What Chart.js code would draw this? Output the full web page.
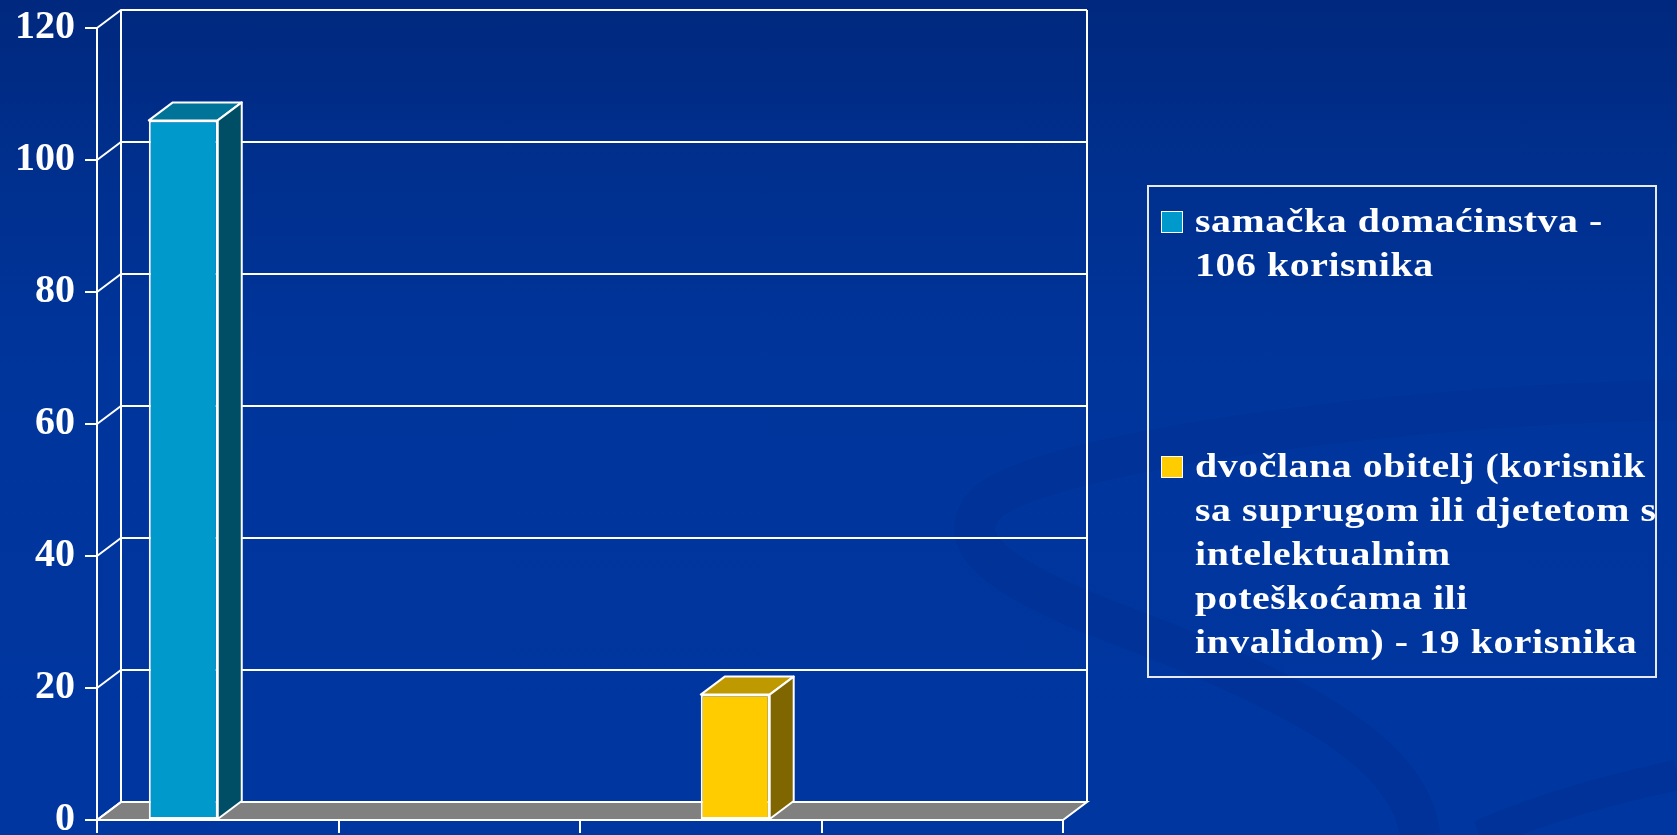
<!DOCTYPE html>
<html>
<head>
<meta charset="utf-8">
<script src="https://cdn.jsdelivr.net/npm/chart.js@4.4.1/dist/chart.umd.min.js"></script>
<style>
    html, body {
        margin: 0;
        padding: 0;
        overflow: hidden;
    }
    .slide {
        position: relative;
        width: 1677px;
        height: 835px;
        background: linear-gradient(180deg, #00287e 0%, #00308f 22%, #00359c 45%, #0036a0 100%);
        overflow: hidden;
    }
    .swirl {
        position: absolute;
        left: 0;
        top: 0;
    }
    .my-chart {
        position: absolute;
        left: 0;
        top: 0;
    }
    .legend {
        position: absolute;
        left: 1147px;
        top: 185px;
        width: 510px;
        height: 493px;
        box-sizing: border-box;
        border: 2px solid #e6e8f2;
        padding: 12px 0 12px 12px;
    }
    .legend ul {
        list-style: none;
        margin: 0;
        padding: 0;
        height: 100%;
        display: flex;
        flex-direction: column;
        justify-content: space-between;
    }
    .legend li {
        display: flex;
        align-items: flex-start;
        font-family: "Liberation Serif", serif;
        font-weight: bold;
        font-size: 34px;
        letter-spacing: 0.5px;
        line-height: 44px;
        color: #ffffff;
        white-space: nowrap;
    }
    .legend .txt {
        display: inline-block;
        transform: scaleX(1.17);
        transform-origin: left top;
    }
    .legend .box {
        flex: none;
        width: 20px;
        height: 20px;
        border: 1px solid #ffffff;
        margin-top: 12px;
        margin-right: 12px;
    }
</style>
</head>
<body>
<div class="slide">
    <svg class="swirl" width="1677" height="835" viewBox="0 0 1677 835">
        <g fill="none" stroke="#002c8a" stroke-opacity="0.3">
            <path d="M1677 400 C1400 405 1060 450 990 500 C945 540 1000 580 1120 625 C1290 690 1410 750 1420 835" stroke-width="40"/>
            <path d="M1480 835 C1550 805 1610 790 1677 775" stroke-width="30"/>
        </g>
    </svg>
    <canvas class="my-chart" width="1677" height="835"></canvas>
    <div class="legend"><ul></ul></div>
</div>
<script>
const categories = ["1", "2", "3", "4"];
const samackaValues = [106, null, null, null];
const dvoclanaValues = [null, null, 19, null];
const seriesLabels = [
    ["samačka domaćinstva -", "106 korisnika"],
    ["dvočlana obitelj (korisnik", "sa suprugom ili djetetom s", "intelektualnim", "poteškoćama ili", "invalidom) - 19 korisnika"],
];
const yTicks = [0, 20, 40, 60, 80, 100, 120];

const frontColors = ["#0099cc", "#ffcc00"];
const topColors = ["#007399", "#bf9900"];
const sideColors = ["#004d66", "#806600"];

// depth of the 3d box
const DX = 24;
const DY = 18;

const poly = (ctx, pts, fill) => {
    ctx.beginPath();
    ctx.moveTo(pts[0][0], pts[0][1]);
    pts.slice(1).forEach(p => ctx.lineTo(p[0], p[1]));
    ctx.closePath();
    if (fill) {
        ctx.fillStyle = fill;
        ctx.fill();
    }
    ctx.stroke();
};

const walls3d = {
    id: "walls3d",
    beforeDatasetsDraw(chart) {
        const {ctx, chartArea: a, scales: {y}} = chart;
        ctx.save();
        ctx.strokeStyle = "#ffffff";
        ctx.lineWidth = 2;
        // floor
        const yb = y.getPixelForValue(0);
        poly(ctx, [[a.left, yb], [a.right, yb], [a.right + DX, yb - DY], [a.left + DX, yb - DY]], "#808080");
        // back wall grid + side diagonals
        yTicks.forEach(v => {
            const yy = y.getPixelForValue(v);
            ctx.beginPath();
            ctx.moveTo(a.left, yy);
            ctx.lineTo(a.left + DX, yy - DY);
            ctx.lineTo(a.right + DX, yy - DY);
            ctx.stroke();
        });
        const yt = y.getPixelForValue(120);
        ctx.beginPath();
        ctx.moveTo(a.left + DX, yt - DY);
        ctx.lineTo(a.left + DX, yb - DY);
        ctx.moveTo(a.right + DX, yt - DY);
        ctx.lineTo(a.right + DX, yb - DY);
        ctx.stroke();
        ctx.restore();
    },
    afterDatasetsDraw(chart) {
        const {ctx} = chart;
        ctx.save();
        ctx.strokeStyle = "#ffffff";
        ctx.lineWidth = 2;
        ctx.lineJoin = "round";
        chart.data.datasets.forEach((ds, i) => {
            chart.getDatasetMeta(i).data.forEach((bar, j) => {
                if (ds.data[j] === null) return;
                const l = bar.x - bar.width / 2;
                const r = bar.x + bar.width / 2;
                const t = bar.y;
                const b = bar.base;
                poly(ctx, [[l, t], [l + DX, t - DY], [r + DX, t - DY], [r, t]], topColors[i]);
                poly(ctx, [[r, t], [r + DX, t - DY], [r + DX, b - DY], [r, b]], sideColors[i]);
            });
        });
        ctx.restore();
    },
};

const myChart = document.querySelector(".my-chart");
new Chart(myChart, {
    type: "bar",
    data: {
        labels: categories,
        datasets: [
            {
                label: seriesLabels[0].join(" "),
                data: samackaValues,
                backgroundColor: frontColors[0],
            },
            {
                label: seriesLabels[1].join(" "),
                data: dvoclanaValues,
                backgroundColor: frontColors[1],
            },
        ],
    },
    options: {
        responsive: false,
        animation: false,
        datasets: {
            bar: {
                borderColor: "#ffffff",
                borderWidth: 2,
                borderSkipped: false,
                categoryPercentage: 0.571,
                barPercentage: 1,
            },
        },
        layout: {
            padding: {top: 28, right: 614, left: 0, bottom: 0},
        },
        plugins: {
            legend: {display: false},
            tooltip: {enabled: false},
        },
        scales: {
            x: {
                afterFit: (s) => {
                    s.height = 15;
                    s.paddingLeft = 0;
                    s.paddingRight = 0;
                },
                ticks: {display: false},
                grid: {
                    offset: true,
                    drawOnChartArea: false,
                    drawTicks: true,
                    tickLength: 13,
                    color: "#ffffff",
                    lineWidth: 2,
                },
                border: {display: true, color: "#ffffff", width: 2},
            },
            y: {
                min: 0,
                max: 120,
                afterFit: (s) => {
                    s.width = 97;
                    s.paddingTop = 0;
                    s.paddingBottom = 0;
                },
                afterBuildTicks: (s) => { s.ticks = yTicks.map(v => ({value: v})); },
                ticks: {
                    color: "#ffffff",
                    padding: 10,
                    font: {family: "'Liberation Serif', serif", weight: "bold", size: 40},
                },
                grid: {
                    drawOnChartArea: false,
                    drawTicks: true,
                    tickLength: 12,
                    color: "#ffffff",
                    lineWidth: 2,
                },
                border: {display: true, color: "#ffffff", width: 2},
            },
        },
    },
    plugins: [walls3d],
});

const ul = document.querySelector(".legend ul");
const populateUl = () => {
    seriesLabels.forEach((lines, i) => {
        let li = document.createElement("li");
        li.innerHTML = `<span class="box" style="background:${frontColors[i]}"></span><span class="txt">${lines.join("<br>")}</span>`;
        ul.appendChild(li);
    });
};

populateUl();
</script>
</body>
</html>
